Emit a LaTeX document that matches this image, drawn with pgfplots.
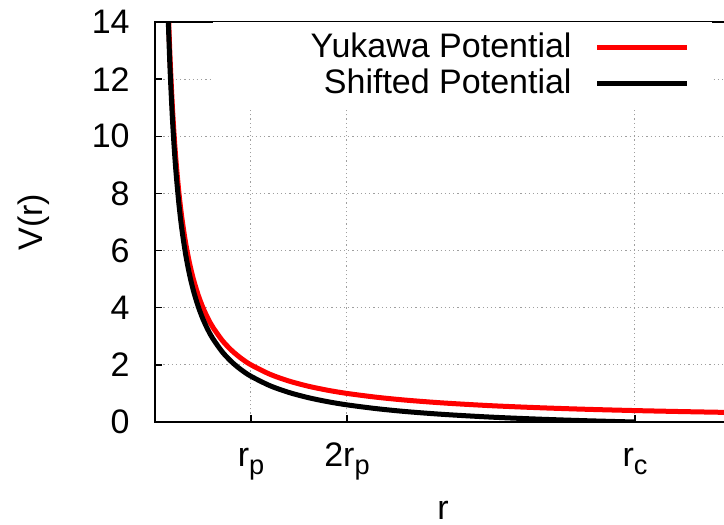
\documentclass[border=0pt]{standalone}
\usepackage{pgfplots}
\pgfplotsset{compat=1.18}
\usepackage{fontspec}
\setmainfont{Liberation Sans}

% lowered, smaller subscript in the text font
\newcommand{\sub}[1]{\raisebox{-3.85pt}{\fontsize{13.6}{14}\selectfont #1}}

% Yukawa potential and the potential shifted to vanish at r_c (r in units of r_p)
\pgfplotstableread{
r     V
0.13  15.385
0.14  14.286
0.15  13.333
0.16  12.500
0.18  11.111
0.20  10.000
0.22  9.091
0.25  8.000
0.28  7.143
0.32  6.250
0.36  5.556
0.40  5.000
0.45  4.444
0.50  4.000
0.55  3.636
0.60  3.333
0.70  2.857
0.80  2.500
0.90  2.222
1.00  2.000
1.20  1.667
1.40  1.429
1.60  1.250
1.80  1.111
2.00  1.000
2.30  0.870
2.60  0.769
3.00  0.667
3.50  0.571
4.00  0.500
4.50  0.444
5.00  0.400
5.50  0.364
6.00  0.333
}\yukawa

\pgfplotstableread{
r     V
0.13  14.985
0.14  13.886
0.15  12.933
0.16  12.100
0.18  10.711
0.20  9.600
0.22  8.691
0.25  7.600
0.28  6.743
0.32  5.850
0.36  5.156
0.40  4.600
0.45  4.044
0.50  3.600
0.55  3.236
0.60  2.933
0.70  2.457
0.80  2.100
0.90  1.822
1.00  1.600
1.20  1.267
1.40  1.029
1.60  0.850
1.80  0.711
2.00  0.600
2.30  0.470
2.60  0.369
3.00  0.267
3.50  0.171
4.00  0.100
4.50  0.044
5.00  0.000
}\shifted

\begin{document}
\fontsize{17}{20}\selectfont
\begin{tikzpicture}
\path[use as bounding box] (-77.5pt,-51.5pt) rectangle (284.5pt,211pt);
\clip (-77.5pt,-51.5pt) rectangle (284.5pt,211pt);
\begin{axis}[
  at={(0pt,0pt)}, anchor=south west,
  scale only axis, width=288pt, height=200pt,
  xmin=0, xmax=6, ymin=0, ymax=14,
  xtick={1,2,5},
  xticklabels={r\sub{p}, 2r\sub{p}, r\sub{c}},
  ytick={0,2,...,14},
  /pgf/number format/assume math mode=true,
  grid=major,
  major grid style={gray!75, line width=0.5pt, dash pattern=on 0.6pt off 1.5pt},
  tick align=inside,
  major tick length=3.5pt,
  axis line style={line width=0.75pt},
  every tick/.style={black, line width=0.75pt},
  yticklabel style={anchor=east, inner sep=0pt, xshift=-12.5pt},
  xticklabel style={anchor=base, inner sep=0pt, yshift=-22.35pt},
  xlabel={r},
  ylabel={V(r)},
  every axis x label/.style={at={(axis description cs:0.5,-0.243)}, anchor=base},
  every axis y label/.style={at={(axis description cs:-0.21,0.5)}, rotate=90, anchor=center},
  legend plot pos=right,
  legend cell align=right,
  legend image code/.code={\draw[#1] (0pt,0.6pt) -- (45pt,0.6pt);},
  legend style={at={(rel axis cs:0.967,1)}, anchor=north east,
    fill=white, draw=none, inner xsep=11pt, inner ysep=5pt,
    row sep=2pt, column sep=11.5pt,
    nodes={inner sep=0pt, text height=12.5pt, text depth=3.5pt}},
]
\addplot[red, line width=2.5pt, smooth] table[x=r, y=V] {\yukawa};
\addlegendentry{\makebox[168.5pt][r]{Yukawa Potential}}
\addplot[black, line width=2.5pt, smooth] table[x=r, y=V] {\shifted};
\addlegendentry{\makebox[168.5pt][r]{Shifted Potential}}
\end{axis}
\end{tikzpicture}
\end{document}
